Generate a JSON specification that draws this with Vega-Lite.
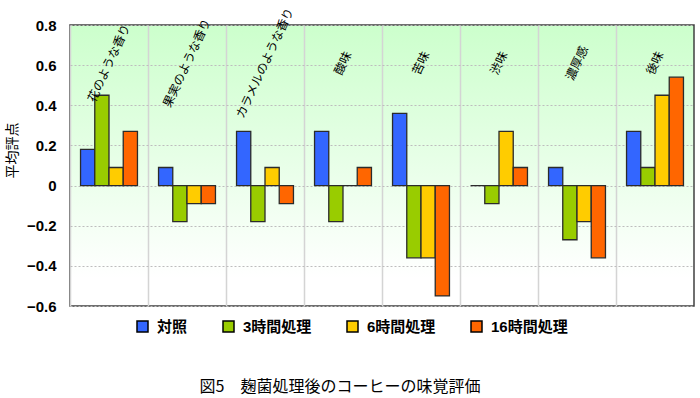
{
  "$schema": "https://vega.github.io/schema/vega-lite/v6.json",
  "width": 624,
  "height": 281,
  "autosize": "none",
  "padding": {"left": 70, "top": 25, "right": 6, "bottom": 92},
  "background": "white",
  "view": {
    "fill": {"gradient": "linear", "x1": 0, "y1": 0, "x2": 0, "y2": 1,
      "stops": [{"offset": 0, "color": "#ccffcc"}, {"offset": 0.9, "color": "#ffffff"}, {"offset": 1, "color": "#ffffff"}]},
    "stroke": "#404040",
    "strokeWidth": 1.5
  },
  "title": {
    "text": "図5　麹菌処理後のコーヒーの味覚評価",
    "orient": "bottom",
    "offset": 44,
    "dx": -42,
    "fontSize": 16,
    "fontWeight": "normal",
    "font": "Noto Sans CJK JP",
    "color": "#000000",
    "anchor": "middle"
  },
  "datasets": {
    "scores": [
      {"item": "花のような香り", "group": "対照", "score": 0.18},
      {"item": "花のような香り", "group": "3時間処理", "score": 0.45},
      {"item": "花のような香り", "group": "6時間処理", "score": 0.09},
      {"item": "花のような香り", "group": "16時間処理", "score": 0.27},
      {"item": "果実のような香り", "group": "対照", "score": 0.09},
      {"item": "果実のような香り", "group": "3時間処理", "score": -0.18},
      {"item": "果実のような香り", "group": "6時間処理", "score": -0.09},
      {"item": "果実のような香り", "group": "16時間処理", "score": -0.09},
      {"item": "カラメルのような香り", "group": "対照", "score": 0.27},
      {"item": "カラメルのような香り", "group": "3時間処理", "score": -0.18},
      {"item": "カラメルのような香り", "group": "6時間処理", "score": 0.09},
      {"item": "カラメルのような香り", "group": "16時間処理", "score": -0.09},
      {"item": "酸味", "group": "対照", "score": 0.27},
      {"item": "酸味", "group": "3時間処理", "score": -0.18},
      {"item": "酸味", "group": "6時間処理", "score": 0},
      {"item": "酸味", "group": "16時間処理", "score": 0.09},
      {"item": "苦味", "group": "対照", "score": 0.36},
      {"item": "苦味", "group": "3時間処理", "score": -0.36},
      {"item": "苦味", "group": "6時間処理", "score": -0.36},
      {"item": "苦味", "group": "16時間処理", "score": -0.55},
      {"item": "渋味", "group": "対照", "score": 0},
      {"item": "渋味", "group": "3時間処理", "score": -0.09},
      {"item": "渋味", "group": "6時間処理", "score": 0.27},
      {"item": "渋味", "group": "16時間処理", "score": 0.09},
      {"item": "濃厚感", "group": "対照", "score": 0.09},
      {"item": "濃厚感", "group": "3時間処理", "score": -0.27},
      {"item": "濃厚感", "group": "6時間処理", "score": -0.18},
      {"item": "濃厚感", "group": "16時間処理", "score": -0.36},
      {"item": "後味", "group": "対照", "score": 0.27},
      {"item": "後味", "group": "3時間処理", "score": 0.09},
      {"item": "後味", "group": "6時間処理", "score": 0.45},
      {"item": "後味", "group": "16時間処理", "score": 0.54}
    ],
    "items": [
      {"item": "花のような香り"},
      {"item": "果実のような香り"},
      {"item": "カラメルのような香り"},
      {"item": "酸味"},
      {"item": "苦味"},
      {"item": "渋味"},
      {"item": "濃厚感"},
      {"item": "後味"}
    ]
  },
  "encoding": {
    "x": {
      "field": "item", "type": "nominal", "sort": null,
      "scale": {"paddingInner": 0, "paddingOuter": 0},
      "axis": {"labels": false, "ticks": false, "domain": false, "title": null,
        "grid": true, "bandPosition": 0, "gridColor": "#d4d4d4", "gridWidth": 1.5}
    }
  },
  "layer": [
    {
      "data": {"name": "scores"},
      "mark": {"type": "bar", "stroke": "#2b2b2b", "strokeWidth": 1.3},
      "encoding": {
        "xOffset": {"field": "group", "type": "nominal",
          "sort": ["対照", "3時間処理", "6時間処理", "16時間処理"],
          "scale": {"paddingInner": 0, "paddingOuter": 0.74}},
        "y": {
          "field": "score", "type": "quantitative",
          "scale": {"domain": [-0.6, 0.8], "nice": false, "zero": false},
          "axis": {
            "values": [-0.6, -0.4, -0.2, 0, 0.2, 0.4, 0.6, 0.8],
            "labelExpr": "datum.value == 0 ? '0' : format(datum.value, '.1f')",
            "title": "平均評点",
            "titleFont": "Noto Sans CJK JP",
            "titleFontSize": 14,
            "titleFontWeight": "normal",
            "titleColor": "#000000",
            "titleX": -58,
            "titleY": 125,
            "titleAngle": -90,
            "titleBaseline": "middle",
            "titleAlign": "center",
            "labelFont": "Liberation Sans",
            "labelFontSize": 15,
            "labelFontWeight": "bold",
            "labelColor": "#000000",
            "labelPadding": 14,
            "ticks": false,
            "domain": false,
            "grid": true,
            "gridColor": "#bdbdbd",
            "gridDash": [2, 2],
            "gridWidth": 1.2
          }
        },
        "color": {
          "field": "group", "type": "nominal",
          "sort": ["対照", "3時間処理", "6時間処理", "16時間処理"],
          "scale": {"domain": ["対照", "3時間処理", "6時間処理", "16時間処理"],
            "range": ["#3366ff", "#99cc00", "#ffcc00", "#ff6600"]},
          "legend": {
            "title": null,
            "orient": "none",
            "legendX": 65,
            "legendY": 294,
            "direction": "horizontal",
            "columns": 4,
            "columnPadding": 32,
            "symbolType": "square",
            "symbolSize": 121,
            "symbolStrokeColor": "#000000",
            "symbolStrokeWidth": 1.5,
            "symbolOpacity": 1,
            "labelFont": "Liberation Sans, Noto Sans CJK JP",
            "labelFontSize": 15,
            "labelFontWeight": "bold",
            "labelColor": "#000000",
            "labelOffset": 7
          }
        }
      }
    },
    {
      "mark": {"type": "rule", "color": "#333333", "strokeWidth": 1.5},
      "encoding": {"y": {"datum": 0}}
    },
    {
      "data": {"name": "items"},
      "mark": {"type": "text", "angle": 295, "align": "center", "baseline": "middle",
        "font": "Noto Sans CJK JP", "fontSize": 12, "color": "#000000"},
      "encoding": {
        "text": {"field": "item"},
        "y": {"datum": 0.61}
      }
    }
  ]
}
